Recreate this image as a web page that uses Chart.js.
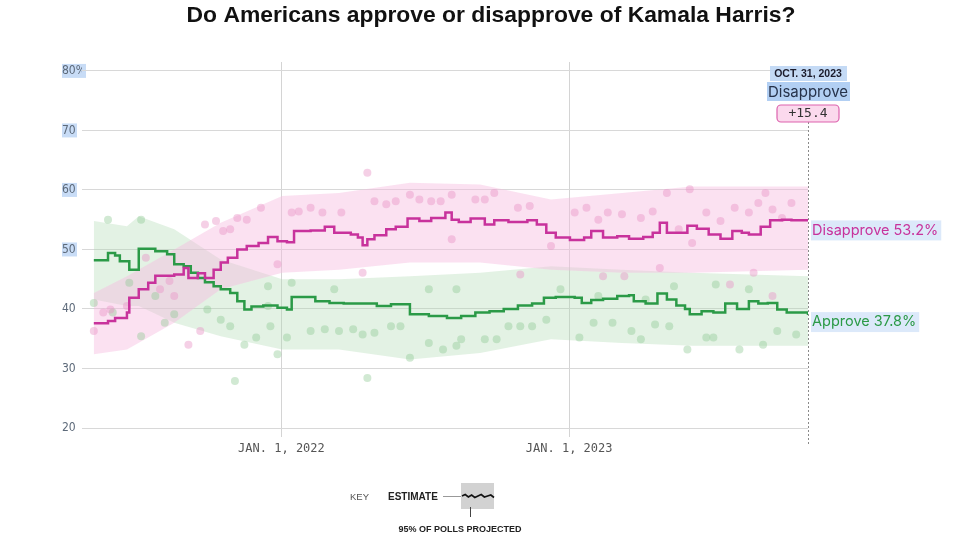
<!DOCTYPE html>
<html lang="en">
<head>
<meta charset="utf-8">
<title>Kamala Harris approval</title>
<script src="https://cdn.jsdelivr.net/npm/chart.js@4.4.1/dist/chart.umd.min.js"></script>
<style>
  html, body { margin: 0; padding: 0; background: #fff; }
  #grafico { display: block; }
</style>
</head>
<body>
<canvas id="grafico" width="960" height="540"></canvas>
<script>
// === DADOS =================================================================
// eixo x = dias desde 1 jan 2022
const xTicks      = [0, 365];
const xTickLabels = ['JAN. 1, 2022', 'JAN. 1, 2023'];
const yTicks      = [20, 30, 40, 50, 60, 70, 80];
const diaFinal    = 668;            // 31 out 2023
const rotuloFinal = 'OCT. 31, 2023';
const seriesNomes   = ['Disapprove', 'Approve'];
const seriesFinais  = [53.2, 37.8];

// estimativa (linha em degraus)
const desaprovaDias = [-238,-220,-211,-196,-193,-181,-169,-160,-136,-124,-118,-106,-97,-86,-77,-68,-56,-44,-29,-17,-5,7,16,37,55,67,88,97,103,109,118,133,145,160,175,190,208,216,225,240,258,270,288,312,324,336,348,366,384,393,408,426,441,459,471,480,489,515,527,542,557,572,584,593,608,620,635,647,668];
const desaprovaValores = [37.6,38.0,38.5,39.4,41.9,43.3,44.4,45.6,45.8,46.9,45.2,46.0,45.2,46.6,47.8,48.6,50.0,50.6,51.1,52.1,51.4,51.2,53.1,53.2,53.8,52.8,52.5,52.0,50.7,51.7,52.4,53.4,53.8,55.2,54.8,55.3,56.2,55.0,54.6,55.2,54.2,54.9,54.6,54.9,54.2,52.8,52.0,51.6,52.0,53.1,52.0,52.2,51.8,52.1,52.8,54.5,52.8,54.0,53.5,52.5,51.8,53.1,52.8,52.5,53.8,54.9,55.0,54.9,54.9];

const aprovaDias = [-238,-220,-211,-205,-193,-181,-160,-145,-136,-124,-115,-106,-97,-86,-77,-65,-56,-47,-38,-23,-5,7,13,43,61,79,121,139,163,187,210,228,246,264,282,300,318,333,348,372,381,393,408,426,441,447,462,477,489,501,512,518,533,548,563,578,593,605,617,629,641,668];
const aprovaValores = [48.2,49.4,49.0,48.0,46.6,50.1,49.7,49.2,47.5,47.2,46.1,45.2,44.5,43.8,43.3,42.7,41.3,39.9,40.4,40.6,40.2,39.9,42.0,41.3,41.0,40.9,40.5,40.8,39.1,38.8,38.5,38.8,39.4,39.6,40.0,40.6,40.9,41.9,42.0,41.9,41.0,41.5,41.7,42.2,42.3,41.3,40.9,42.6,41.6,40.6,40.0,39.1,39.6,39.4,40.9,40.0,41.3,40.9,41.0,39.9,39.4,39.0];

// faixa de 95% das pesquisas projetadas
const faixaDesaprovaDias  = [-238,-196,-136,-77,1,73,163,252,342,432,521,668];
const faixaDesaprovaAlta  = [42.7,45.5,50.0,54.5,59.0,59.5,61.2,60.9,58.4,59.5,60.6,60.6];
const faixaDesaprovaBaixa = [32.4,33.2,37.7,43.3,46.1,46.6,47.8,47.8,46.6,46.1,46.1,46.6];

const faixaAprovaDias  = [-238,-196,-181,-136,-77,1,73,163,252,342,432,521,668];
const faixaAprovaAlta  = [54.8,53.9,55.6,53.4,48.3,45.0,45.0,45.5,46.1,47.2,46.6,46.1,45.5];
const faixaAprovaBaixa = [41.6,40.5,40.5,37.7,35.4,33.2,33.2,31.5,32.6,34.9,34.3,33.8,33.8];

// pesquisas individuais
const pesqDesaprovaDias = [-238,-226,-217,-196,-172,-154,-142,-136,-118,-103,-97,-83,-74,-65,-56,-44,-26,-5,13,22,37,52,76,103,109,118,133,145,163,175,190,202,216,216,246,258,270,300,303,315,342,372,387,402,408,414,432,435,456,471,480,489,504,518,521,539,557,569,575,593,599,605,614,623,623,635,647];
const pesqDesaprovaValores = [36.3,39.4,39.9,40.5,48.6,43.3,44.7,42.2,34.0,36.3,54.2,54.8,53.1,53.4,55.3,55.0,57.0,47.5,56.2,56.4,57.0,56.2,56.2,46.1,62.9,58.1,57.6,58.1,59.2,58.4,58.1,58.1,59.2,51.7,58.4,58.4,59.5,57.0,45.8,57.3,50.6,56.2,57.0,55.0,45.5,56.2,55.9,45.5,55.3,56.4,46.9,59.5,53.4,60.1,51.1,56.2,54.8,44.1,57.0,56.2,46.1,57.8,59.5,56.7,42.2,55.3,57.8];

const pesqAprovaDias = [-238,-220,-214,-193,-178,-178,-160,-148,-136,-94,-77,-65,-59,-47,-32,-17,-17,-14,-5,7,13,37,55,67,73,91,103,109,118,139,151,163,187,187,205,222,222,228,258,273,288,303,318,336,354,378,396,402,420,444,456,462,474,492,498,515,539,548,551,581,593,611,629,653];
const pesqAprovaValores = [41.0,55.0,39.4,44.4,55.0,35.4,42.2,37.7,39.1,39.9,38.2,37.1,27.9,34.0,35.2,40.5,43.8,37.1,32.4,35.2,44.4,36.3,36.6,43.3,36.3,36.6,35.7,28.4,36.0,37.1,37.1,31.8,34.3,43.3,33.2,33.8,43.3,34.9,34.9,34.9,37.1,37.1,37.1,38.2,43.3,35.2,37.7,42.2,37.7,36.3,34.9,41.6,37.4,37.1,43.8,33.2,35.2,35.2,44.1,33.2,43.3,34.0,36.3,35.7];

// === CORES =================================================================
const corDesaprova = '#c8329c';
const corAprova    = '#2b9a47';

// === HELPERS ===============================================================
const pontos = (xs, ys) => xs.map((x, i) => ({ x, y: ys[i] }));

function fonteAjustada(ctx, texto, peso, familia, larguraAlvo) {
  ctx.font = `${peso} 20px ${familia}`;
  const tam = 20 * larguraAlvo / ctx.measureText(texto).width;
  return `${peso} ${tam.toFixed(2)}px ${familia}`;
}

function caixaRealce(ctx, x, y, w, h, cor) {
  ctx.fillStyle = cor;
  ctx.fillRect(x, y, w, h);
}

// === PLUGIN (titulo, anotacao, rotulos, chave) =============================
const decoracao = {
  id: 'decoracao',
  beforeDraw(chart) {
    const { ctx, scales: { y } } = chart;
    ctx.save();
    // realce azul (seleção) atrás de alguns rótulos do eixo y
    [80, 70, 60, 50].forEach(v => {
      const py = y.getPixelForValue(v);
      caixaRealce(ctx, 62, py - 7, v === 80 ? 24 : 15, 14, 'rgba(190,214,244,0.85)');
    });
    ctx.restore();
  },
  afterDraw(chart) {
    const { ctx, chartArea, scales: { x, y } } = chart;
    ctx.save();

    // titulo
    const titulo = 'Do Americans approve or disapprove of Kamala Harris?';
    ctx.font = fonteAjustada(ctx, titulo, 'bold', '"Liberation Sans", Arial, sans-serif', 609);
    ctx.fillStyle = '#111';
    ctx.textAlign = 'center';
    ctx.textBaseline = 'middle';
    ctx.fillText(titulo, 491, 16);

    // linha pontilhada na data final
    const xf = x.getPixelForValue(diaFinal);
    ctx.strokeStyle = '#8a8a8a';
    ctx.lineWidth = 1;
    ctx.setLineDash([2, 2]);
    ctx.beginPath();
    ctx.moveTo(xf + 0.5, 122);
    ctx.lineTo(xf + 0.5, 445);
    ctx.stroke();
    ctx.setLineDash([]);

    // anotação do topo
    caixaRealce(ctx, xf - 38, 66, 77, 15, 'rgba(190,214,244,0.9)');
    caixaRealce(ctx, xf - 41, 82, 83, 19, 'rgba(170,202,242,0.9)');
    ctx.fillStyle = '#1b1b2b';
    ctx.font = 'bold 10.5px "Liberation Sans", Arial, sans-serif';
    ctx.fillText(rotuloFinal, xf, 74);
    ctx.fillStyle = '#26324a';
    ctx.font = '15px Inter, "Noto Sans", sans-serif';
    ctx.fillText(seriesNomes[0], xf, 92);

    const margem = (seriesFinais[0] - seriesFinais[1]).toFixed(1);
    ctx.beginPath();
    ctx.roundRect(xf - 31, 105, 62, 17, 4);
    ctx.fillStyle = '#fbd9ed';
    ctx.fill();
    ctx.strokeStyle = '#dd63ae';
    ctx.lineWidth = 1.2;
    ctx.stroke();
    ctx.fillStyle = '#333';
    ctx.font = '13px "DejaVu Sans Mono", monospace';
    ctx.fillText('+' + margem, xf, 114);

    // rótulos finais à direita
    ctx.textAlign = 'left';
    ctx.font = '14.5px Inter, "Noto Sans", sans-serif';
    [corDesaprova, corAprova].forEach((cor, i) => {
      const txt = `${seriesNomes[i]} ${seriesFinais[i]}%`;
      const py = y.getPixelForValue(seriesFinais[i]);
      const w = ctx.measureText(txt).width;
      caixaRealce(ctx, chartArea.right + 3, py - 10, w + 4, 20, 'rgba(205,224,248,0.7)');
      ctx.fillStyle = cor;
      ctx.fillText(txt, chartArea.right + 4, py);
    });

    // chave
    ctx.fillStyle = '#555';
    ctx.font = '9.5px "Liberation Sans", Arial, sans-serif';
    ctx.fillText('KEY', 350, 497);
    ctx.fillStyle = '#222';
    ctx.font = 'bold 10px "Liberation Sans", Arial, sans-serif';
    ctx.fillText('ESTIMATE', 388, 497);
    ctx.strokeStyle = '#999';
    ctx.lineWidth = 1;
    ctx.beginPath();
    ctx.moveTo(443, 496.5);
    ctx.lineTo(461, 496.5);
    ctx.stroke();
    ctx.fillStyle = '#d2d2d2';
    ctx.fillRect(461, 483, 33, 26);
    ctx.strokeStyle = '#111';
    ctx.lineWidth = 1.6;
    ctx.beginPath();
    const onda = [0, -1.5, 1, -1, 1.5, 0, -1.5, 1, 0, -1, 1.5];
    onda.forEach((d, i) => {
      const px = 462 + i * 3.2, py = 496 + d;
      i === 0 ? ctx.moveTo(px, py) : ctx.lineTo(px, py);
    });
    ctx.stroke();
    ctx.strokeStyle = '#444';
    ctx.lineWidth = 1;
    ctx.beginPath();
    ctx.moveTo(470.5, 507);
    ctx.lineTo(470.5, 517);
    ctx.stroke();
    ctx.fillStyle = '#222';
    ctx.textAlign = 'center';
    ctx.font = 'bold 9px "Liberation Sans", Arial, sans-serif';
    ctx.fillText('95% OF POLLS PROJECTED', 460, 530);

    ctx.restore();
  }
};

// === CHART =================================================================
const elGrafico = document.getElementById('grafico');

const grafico = new Chart(elGrafico, {
  type: 'line',
  data: {
    datasets: [
      { label: 'Disapprove', data: pontos(desaprovaDias, desaprovaValores),
        borderColor: corDesaprova, borderWidth: 2.5, stepped: true, pointRadius: 0, fill: false, order: 0 },
      { label: 'Approve', data: pontos(aprovaDias, aprovaValores),
        borderColor: corAprova, borderWidth: 2.5, stepped: true, pointRadius: 0, fill: false, order: 1 },
      { label: 'Disapprove polls', data: pontos(pesqDesaprovaDias, pesqDesaprovaValores),
        showLine: false, pointRadius: 4, pointBorderWidth: 0, pointBackgroundColor: 'rgba(232,150,200,0.45)', order: 2 },
      { label: 'Approve polls', data: pontos(pesqAprovaDias, pesqAprovaValores),
        showLine: false, pointRadius: 4, pointBorderWidth: 0, pointBackgroundColor: 'rgba(140,200,145,0.4)', order: 3 },
      { label: 'Disapprove hi', data: pontos(faixaDesaprovaDias, faixaDesaprovaAlta),
        borderWidth: 0, pointRadius: 0, fill: '+1', backgroundColor: 'rgba(246,188,224,0.45)', order: 4 },
      { label: 'Disapprove lo', data: pontos(faixaDesaprovaDias, faixaDesaprovaBaixa),
        borderWidth: 0, pointRadius: 0, fill: false, order: 5 },
      { label: 'Approve hi', data: pontos(faixaAprovaDias, faixaAprovaAlta),
        borderWidth: 0, pointRadius: 0, fill: '+1', backgroundColor: 'rgba(176,218,178,0.35)', order: 6 },
      { label: 'Approve lo', data: pontos(faixaAprovaDias, faixaAprovaBaixa),
        borderWidth: 0, pointRadius: 0, fill: false, order: 7 }
    ]
  },
  options: {
    responsive: false,
    animation: false,
    layout: { padding: { top: 62, left: 62, right: 152, bottom: 72 } },
    plugins: {
      legend: { display: false },
      title: { display: false },
      tooltip: { enabled: false }
    },
    scales: {
      x: {
        type: 'linear',
        min: -253,
        max: diaFinal,
        afterBuildTicks: s => { s.ticks = xTicks.map(v => ({ value: v })); },
        afterFit: s => { s.height = 40; },
        ticks: {
          autoSkip: false, maxRotation: 0, padding: 5,
          callback: (v, i) => xTickLabels[i],
          color: '#555',
          font: { family: '"DejaVu Sans Mono", monospace', size: 12 }
        },
        grid: { color: '#d4d4d4', tickLength: 9, drawTicks: true },
        border: { display: false }
      },
      y: {
        min: 20,
        max: 81.5,
        afterBuildTicks: s => { s.ticks = yTicks.map(v => ({ value: v })); },
        afterFit: s => { s.width = 20; },
        ticks: {
          crossAlign: 'far', padding: 0,
          callback: v => (v === 80 ? '80%' : v),
          color: '#5d6a7a',
          font: { family: '"DejaVu Sans Condensed", sans-serif', size: 12 }
        },
        grid: { color: '#d8d8d8', drawTicks: false },
        border: { display: false }
      }
    }
  },
  plugins: [decoracao]
});
</script>
</body>
</html>
